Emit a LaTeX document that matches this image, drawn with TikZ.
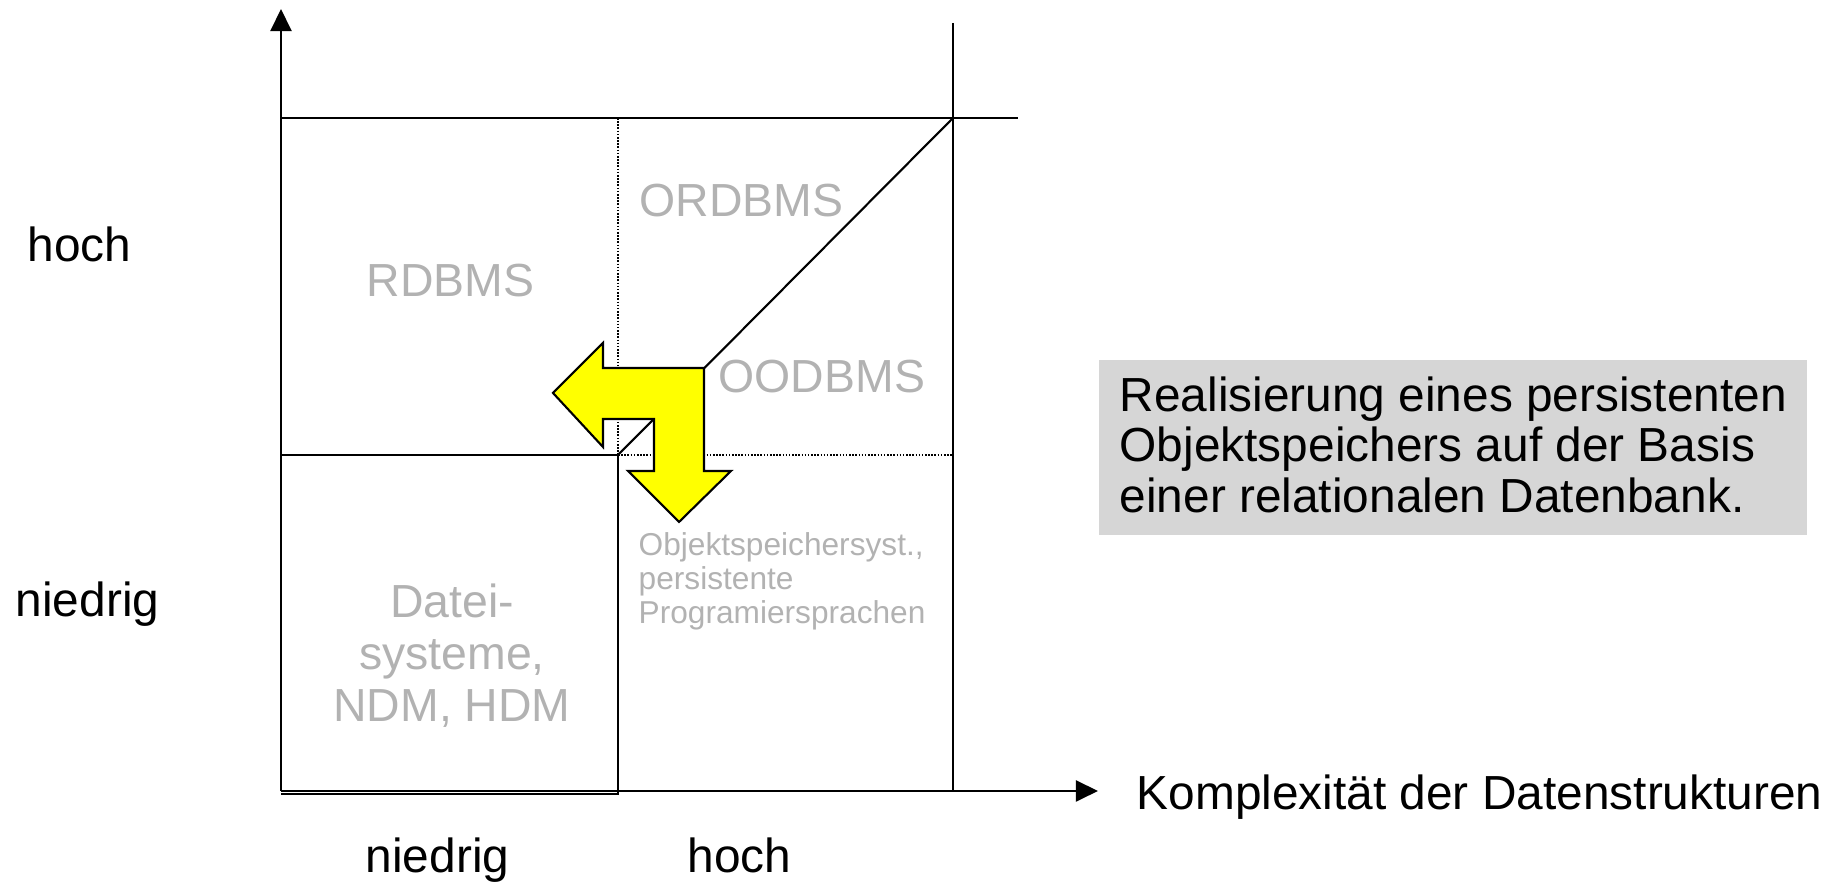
\documentclass[tikz,border=0pt]{standalone}
\usepackage{fontspec}
\setmainfont{Liberation Sans}
\usetikzlibrary{arrows.meta}
\definecolor{labelgray}{RGB}{178,178,178}
\definecolor{notegray}{RGB}{214,214,214}
\definecolor{arrowyellow}{RGB}{255,255,0}
\begin{document}
\begin{tikzpicture}[x=0.01cm,y=-0.01cm,
  axis/.style={line width=0.6pt,-{Triangle[length=6.3pt,width=6pt]}},
  gridline/.style={line width=0.6pt},
  dotgrid/.style={line width=0.6pt,dash pattern=on 0.45pt off 0.45pt},
  big/.style={inner sep=0pt,font=\fontsize{13.6}{14.5}\selectfont},
  region/.style={inner sep=0pt,text=labelgray,font=\fontsize{13.2}{14.8}\selectfont},
  smalltext/.style={inner sep=0pt,text=labelgray,font=\fontsize{9}{9.8}\selectfont},
  notebox/.style={fill=notegray,inner sep=0pt,minimum width=7.08cm,minimum height=1.75cm,anchor=north west},
  turnarrow/.style={fill=arrowyellow,draw=black,line width=0.6pt,line join=miter}
]
\useasboundingbox (0,0) rectangle (1838,883);
% grid coordinates
\coordinate (O) at (281,791);
\coordinate (ytip) at (281,9);
\coordinate (xtip) at (1098,791);
\coordinate (TL) at (281,118);
\coordinate (TM) at (618,118);
\coordinate (TR) at (953,118);
\coordinate (Tend) at (1018,118);
\coordinate (Rtop) at (953,23);
\coordinate (BR) at (953,791);
\coordinate (ML) at (281,455);
\coordinate (C) at (618,455);
\coordinate (MR) at (953,455);
\coordinate (BM) at (618,794);
\coordinate (BL) at (281,794);
% axes
\draw[axis] (O) -- (ytip);
\draw[axis] (O) -- (xtip);
% grid
\draw[gridline] (TL) -- (Tend);
\draw[gridline] (Rtop) -- (BR);
\draw[dotgrid] (TM) -- (C);
\draw[dotgrid] (C) -- (MR);
\draw[gridline] (ML) -- (C) -- (BM) -- (BL);
\draw[gridline] (C) -- (TR);
% yellow turn arrow
\draw[turnarrow] (704,368) -- (704,471) -- (731,471) -- (679,522) -- (628,471) -- (654,471)
  -- (654,419) -- (603,419) -- (603,447) -- (553,393) -- (603,343) -- (603,368) -- cycle;
% region labels
\node[region,anchor=base west] (rdbms) at (366,297) {RDBMS};
\node[region,anchor=base west] (ordbms) at (639,217) {ORDBMS};
\node[region,anchor=base west] (oodbms) at (718,393) {OODBMS};
\node[region,anchor=base,align=center] (datei) at (452,722) {Datei-\\systeme,\\NDM, HDM};
\node[smalltext,anchor=base west,align=left] (objsys) at (638,624) {Objektspeichersyst.,\\persistente\\Programiersprachen};
% axis labels
\node[big,anchor=base west] (yhigh) at (27,262) {hoch};
\node[big,anchor=base west] (ylow) at (15,617) {niedrig};
\node[big,anchor=base west] (xlow) at (365,873) {niedrig};
\node[big,anchor=base west] (xhigh) at (687,873) {hoch};
\node[big,anchor=base west] (xlabel) at (1136,810) {Komplexität der Datenstrukturen};
% note
\node[notebox] (note) at (1098,359) {};
\node[big,anchor=base west,align=left] (notetext) at (1119,513) {Realisierung eines persistenten\\Objektspeichers auf der Basis\\einer relationalen Datenbank.};
\end{tikzpicture}
\end{document}
